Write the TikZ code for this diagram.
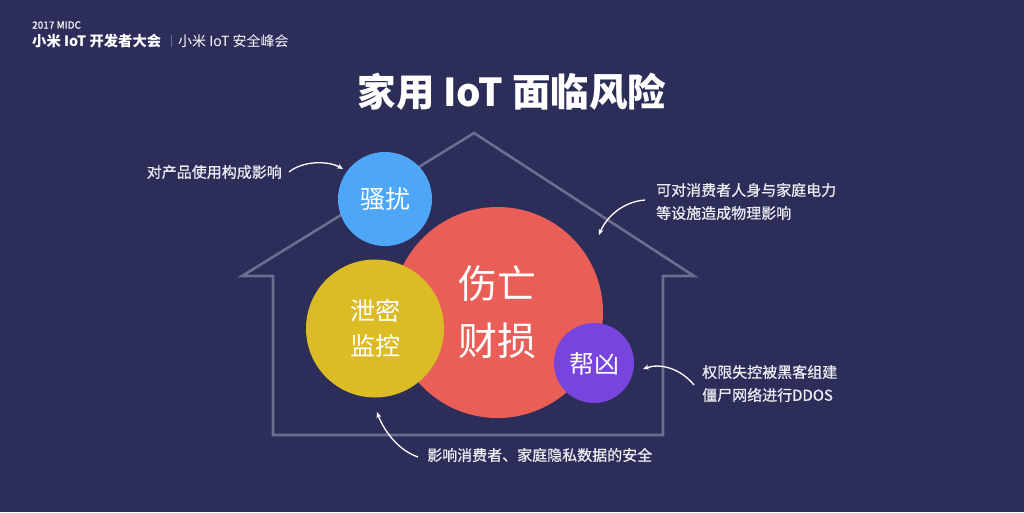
\documentclass[tikz,border=0pt]{standalone}
\usepackage{fontspec}
\setmainfont{Noto Sans CJK SC}
\newfontfamily\medfont{Noto Sans CJK SC}[FakeBold=0.7]
\usetikzlibrary{arrows.meta}
\definecolor{bgc}{HTML}{2C2D59}
\definecolor{housec}{HTML}{6B6E91}
\definecolor{bluec}{HTML}{4EA6F7}
\definecolor{redc}{HTML}{E95E57}
\definecolor{yellowc}{HTML}{DBBC25}
\definecolor{purplec}{HTML}{7744DD}
\definecolor{txtc}{HTML}{ECECF2}
\begin{document}
\begin{tikzpicture}[x=1pt,y=-1pt,
  bubble/.style={circle, inner sep=0pt, draw=none},
  inlabel/.style={text=white, align=center, inner sep=0pt},
  note/.style={text=txtc, align=left, inner sep=0pt, font=\medfont\fontsize{15}{23}\selectfont},
  arr/.style={draw=white, line width=1.3pt, -{Stealth[length=6pt,width=5pt]}},
  houseline/.style={draw=housec, line width=2.6pt, line join=miter}
]
\fill[bgc] (0,0) rectangle (1024,512);
\useasboundingbox (0,0) rectangle (1024,512);

% header
\node[anchor=west, text=white, inner sep=0pt, font=\medfont\fontsize{10}{12}\selectfont] (year) at (32,25) {2017 MIDC};
\node[anchor=west, text=white, inner sep=0pt, font=\fontsize{14.3}{17}\selectfont\bfseries] (conf) at (32,41) {小米 IoT 开发者大会};
\node[anchor=west, text=white, inner sep=0pt, font=\fontsize{14}{17}\selectfont] (summit) at (178,41) {小米 IoT 安全峰会};
\draw[housec, line width=0.8pt] (171,35) -- (171,47);

% title
\node[text=white, inner sep=0pt, font=\fontsize{38.5}{44}\selectfont\bfseries] (title) at (512,92) {家用 IoT 面临风险};

% house outline
\draw[houseline] (242,276) -- (474,133) -- (694,276) -- (663,276) -- (663,435) -- (273,435) -- (273,276) -- cycle;

% circles
\node[bubble, fill=redc, minimum size=211pt] (red) at (497.5,312.5) {};
\node[bubble, fill=yellowc, minimum size=138pt] (yellow) at (375,328.5) {};
\node[bubble, fill=purplec, minimum size=80pt] (purple) at (594,363) {};
\node[bubble, fill=bluec, minimum size=94pt] (blue) at (385,199) {};

% circle labels
\node[inlabel, font=\fontsize{39}{57}\selectfont] (redt) at (497,312.5) {伤亡\\财损};
\node[inlabel, font=\fontsize{25}{35}\selectfont] (yellowt) at (375,328.5) {泄密\\监控};
\node[inlabel, font=\fontsize{25}{30}\selectfont] (purplet) at (594,364) {帮凶};
\node[inlabel, font=\fontsize{25}{30}\selectfont] (bluet) at (385,199.5) {骚扰};

% notes
\node[note, anchor=east] (n1) at (282,172) {对产品使用构成影响};
\node[note, anchor=west] (n2) at (656,201.5) {可对消费者人身与家庭电力\\等设施造成物理影响};
\node[note, anchor=west] (n3) at (702,383.5) {权限失控被黑客组建\\僵尸网络进行DDOS};
\node[note, anchor=west] (n4) at (427,455) {影响消费者、家庭隐私数据的安全};

% arrow endpoints
\coordinate (e1) at (343,169);
\coordinate (e2) at (599,235);
\coordinate (e3) at (643,369);
\coordinate (e4) at (377,412);

\draw[arr] ([xshift=7pt]n1.east) .. controls +(15,-12) and +(-14,-8) .. (e1);
\draw[arr] ([xshift=-11pt,yshift=1.5pt]n2.west) .. controls +(-25,2) and +(6,-15) .. (e2);
\draw[arr] ([xshift=-8pt,yshift=-1.5pt]n3.west) .. controls +(-14,-17) and +(17,-6) .. (e3);
\draw[arr] ([xshift=-9pt,yshift=-2pt]n4.west) .. controls +(-23,-8) and +(5,14) .. (e4);
\end{tikzpicture}
\end{document}
